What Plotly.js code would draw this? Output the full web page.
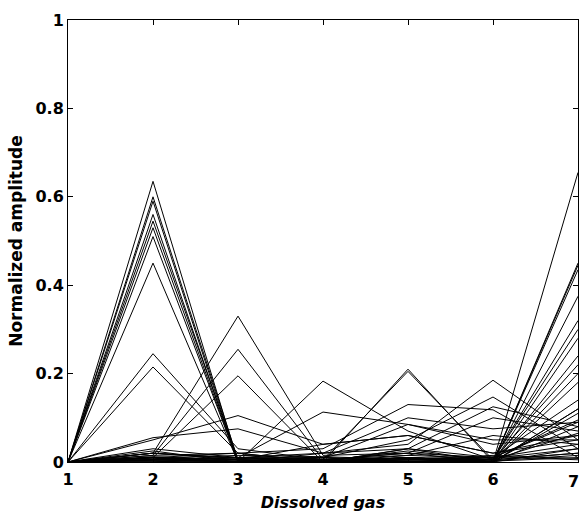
<!DOCTYPE html>
<html>
<head>
<meta charset="utf-8">
<script src="https://cdn.plot.ly/plotly-3.0.1.min.js"></script>
<style>html,body{margin:0;padding:0;background:#fff;}#chart{width:581px;height:514px;}</style>
</head>
<body>
<div id="chart"></div>
<script>
// Gas index (x axis)
const gasIndex = [1, 2, 3, 4, 5, 6, 7];
const xTickVals = [1, 2, 3, 4, 5, 6, 7];
const xTickText = ["1", "2", "3", "4", "5", "6", ""];
const lastXLabel = "7";
const yTickVals = [0, 0.2, 0.4, 0.6, 0.8, 1];
const yTickText = ["0", "0.2", "0.4", "0.6", "0.8", "1"];

// Samples peaking at gas 2
const s01 = [0, 0.635, 0.000, 0.000, 0.010, 0.000, 0.450];
const s02 = [0, 0.600, 0.005, 0.000, 0.005, 0.000, 0.445];
const s03 = [0, 0.590, 0.000, 0.005, 0.000, 0.000, 0.435];
const s04 = [0, 0.560, 0.000, 0.000, 0.010, 0.005, 0.320];
const s05 = [0, 0.545, 0.005, 0.000, 0.000, 0.000, 0.280];
const s06 = [0, 0.530, 0.000, 0.000, 0.005, 0.000, 0.240];
const s07 = [0, 0.510, 0.000, 0.010, 0.000, 0.000, 0.655];
const s08 = [0, 0.450, 0.000, 0.000, 0.000, 0.005, 0.220];
const s09 = [0, 0.245, 0.030, 0.005, 0.010, 0.000, 0.180];
const s10 = [0, 0.215, 0.020, 0.000, 0.005, 0.010, 0.140];
// Samples peaking at gas 3
const s11 = [0, 0.020, 0.330, 0.015, 0.020, 0.000, 0.120];
const s12 = [0, 0.015, 0.255, 0.005, 0.000, 0.010, 0.095];
const s13 = [0, 0.010, 0.195, 0.000, 0.030, 0.000, 0.080];
const s14 = [0, 0.050, 0.105, 0.040, 0.060, 0.020, 0.060];
const s15 = [0, 0.055, 0.075, 0.020, 0.030, 0.010, 0.040];
// Samples peaking at gas 4
const s16 = [0, 0.010, 0.000, 0.183, 0.070, 0.005, 0.020];
const s17 = [0, 0.005, 0.010, 0.113, 0.085, 0.050, 0.050];
// Samples peaking at gas 5
const s18 = [0, 0.010, 0.005, 0.000, 0.210, 0.000, 0.030];
const s19 = [0, 0.005, 0.000, 0.005, 0.205, 0.005, 0.020];
const s20 = [0, 0.010, 0.020, 0.030, 0.130, 0.118, 0.010];
const s21 = [0, 0.020, 0.010, 0.020, 0.100, 0.075, 0.090];
const s22 = [0, 0.010, 0.000, 0.010, 0.085, 0.040, 0.060];
const s23 = [0, 0.000, 0.005, 0.040, 0.060, 0.020, 0.050];
// Samples peaking at gas 6
const s24 = [0, 0.005, 0.000, 0.020, 0.040, 0.185, 0.050];
const s25 = [0, 0.000, 0.010, 0.010, 0.050, 0.147, 0.030];
const s26 = [0, 0.010, 0.000, 0.000, 0.030, 0.125, 0.080];
const s27 = [0, 0.000, 0.000, 0.005, 0.020, 0.100, 0.070];
const s28 = [0, 0.005, 0.005, 0.000, 0.015, 0.060, 0.040];
// Samples rising at gas 7
const s29 = [0, 0.020, 0.005, 0.000, 0.010, 0.000, 0.375];
const s30 = [0, 0.010, 0.000, 0.000, 0.005, 0.005, 0.300];
const s31 = [0, 0.005, 0.010, 0.000, 0.000, 0.000, 0.200];
const s32 = [0, 0.000, 0.000, 0.010, 0.000, 0.000, 0.120];
const s33 = [0, 0.025, 0.000, 0.000, 0.010, 0.000, 0.110];
const s34 = [0, 0.030, 0.010, 0.005, 0.020, 0.010, 0.090];
const s35 = [0, 0.015, 0.020, 0.000, 0.010, 0.005, 0.065];
// Near-zero samples
const s36 = [0, 0.005, 0.010, 0.003, 0.008, 0.002, 0.010];
const s37 = [0, 0.012, 0.004, 0.006, 0.015, 0.008, 0.030];
const s38 = [0, 0.003, 0.002, 0.010, 0.004, 0.012, 0.005];
const s39 = [0, 0.020, 0.008, 0.002, 0.025, 0.003, 0.015];
const s40 = [0, 0.008, 0.015, 0.012, 0.006, 0.015, 0.008];

const allSeries = [s01,s02,s03,s04,s05,s06,s07,s08,s09,s10,s11,s12,s13,s14,s15,s16,s17,s18,s19,s20,
                   s21,s22,s23,s24,s25,s26,s27,s28,s29,s30,s31,s32,s33,s34,s35,s36,s37,s38,s39,s40];

const traces = allSeries.map(function (ys) {
  return {x: gasIndex, y: ys, type: 'scatter', mode: 'lines',
          line: {color: '#000', width: 1}, showlegend: false, hoverinfo: 'skip'};
});

const FONT = 'DejaVu Sans, Liberation Sans, Arial, sans-serif';
const tickFont = {family: FONT, size: 16, color: '#000', weight: 'bold'};

const layout = {
  width: 581, height: 514,
  margin: {l: 68, r: 3, t: 20, b: 52},
  paper_bgcolor: '#fff', plot_bgcolor: '#fff',
  showlegend: false,
  xaxis: {
    range: [1, 7], tickvals: xTickVals, ticktext: xTickText, ticks: 'inside', ticklen: 5, tickcolor: '#000',
    showline: true, linecolor: '#000', linewidth: 1, mirror: 'ticks',
    showgrid: false, zeroline: false, tickfont: tickFont, ticklabelstandoff: 3,
    title: {text: 'Dissolved gas', standoff: 8,
            font: {family: FONT, size: 16, color: '#000', weight: 'bold', style: 'italic'}}
  },
  yaxis: {
    range: [0, 1], tickvals: yTickVals, ticktext: yTickText, ticks: 'inside', ticklen: 5, tickcolor: '#000',
    showline: true, linecolor: '#000', linewidth: 1, mirror: 'ticks',
    showgrid: false, zeroline: false, tickfont: tickFont,
    title: {text: 'Normalized amplitude', standoff: 8,
            font: {family: FONT, size: 17, color: '#000', weight: 'bold'}}
  },
  annotations: [{
    text: lastXLabel, x: 7, xref: 'x', y: 0, yref: 'y',
    xanchor: 'right', yanchor: 'top', xshift: 3, yshift: -8,
    showarrow: false, font: tickFont
  }]
};

Plotly.newPlot('chart', traces, layout, {displayModeBar: false, staticPlot: true});
</script>
</body>
</html>
